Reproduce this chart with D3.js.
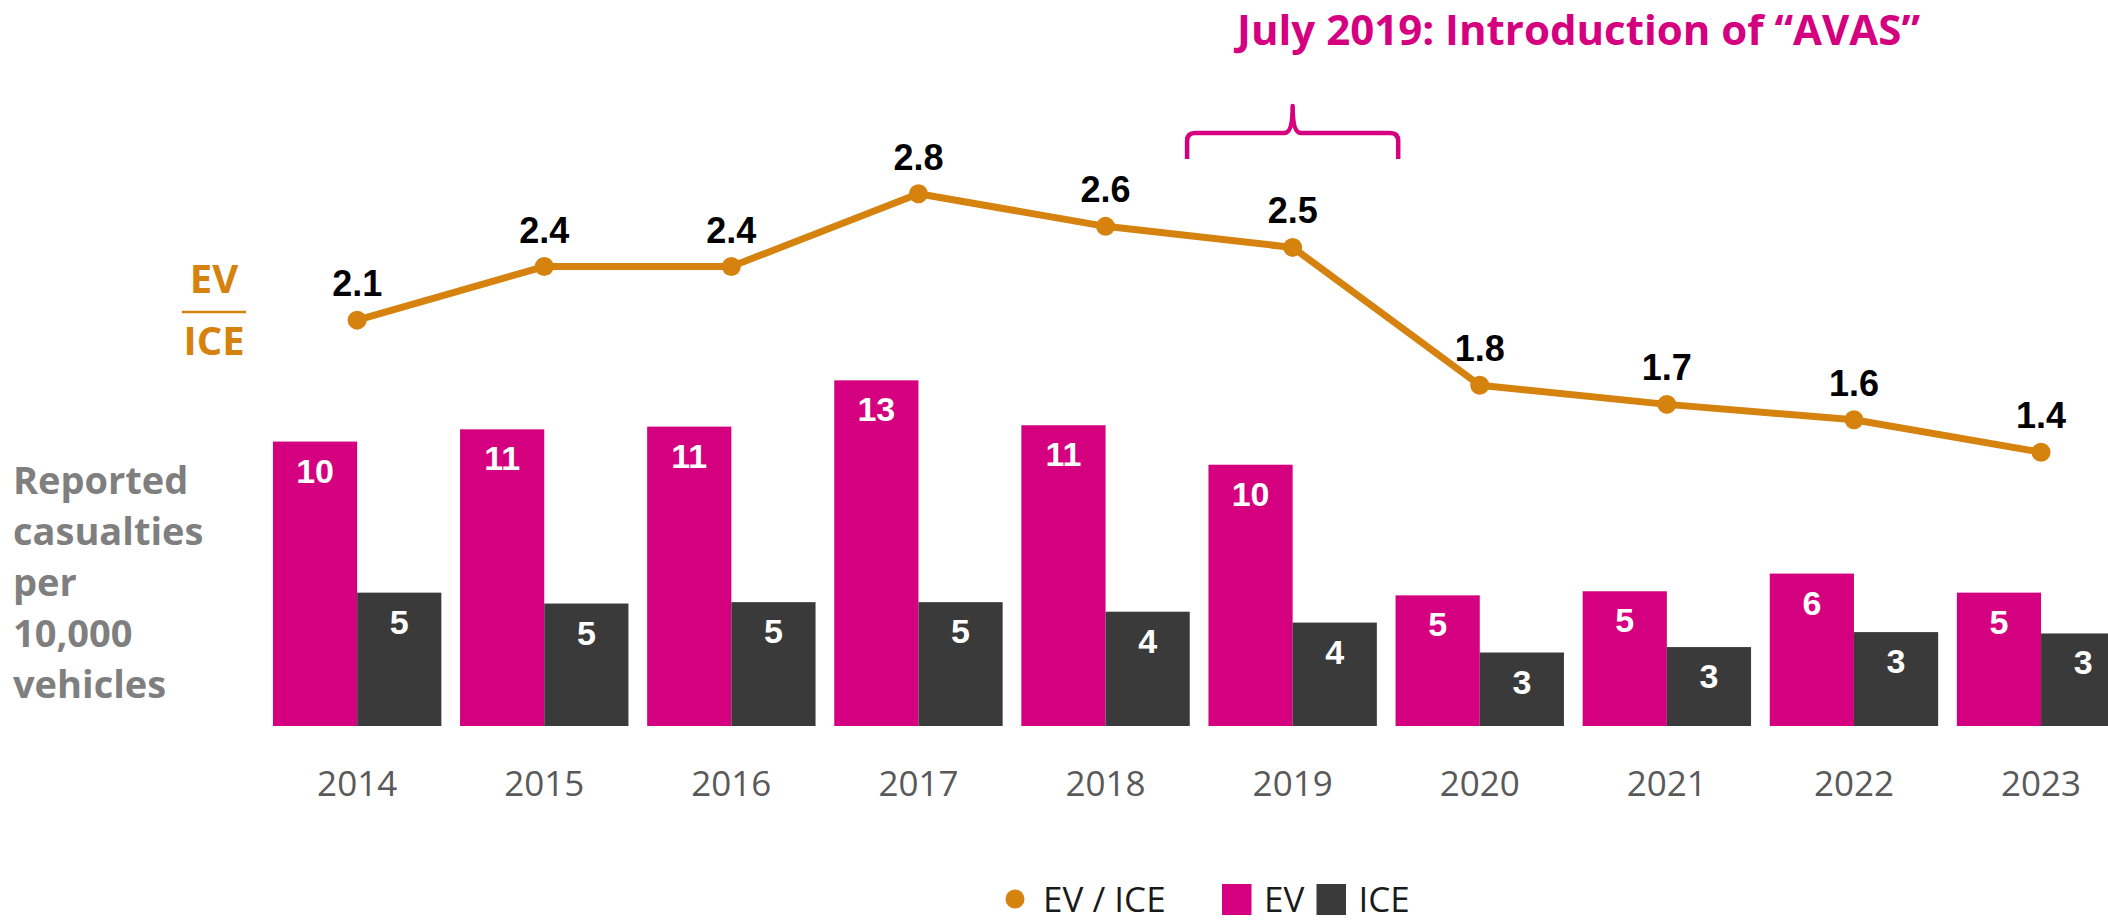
<!DOCTYPE html>
<html>
<head>
<meta charset="utf-8">
<script src="https://cdn.jsdelivr.net/npm/d3@7"></script>
<style>
  html, body { margin: 0; padding: 0; background: #fff; }
  svg { display: block; }
</style>
</head>
<body>
<svg id="chart" width="2108" height="923"></svg>
<script>
// data
const years = ['2014', '2015', '2016', '2017', '2018', '2019', '2020', '2021', '2022', '2023'];
const evRates = [10.45, 10.9, 11.0, 12.7, 11.05, 9.6, 4.8, 4.95, 5.6, 4.9];
const iceRates = [4.9, 4.5, 4.55, 4.55, 4.2, 3.8, 2.7, 2.9, 3.45, 3.4];
const ratios = [2.12, 2.40, 2.40, 2.78, 2.61, 2.50, 1.78, 1.68, 1.60, 1.43];
const seriesNames = ['EV', 'ICE'];
const ratioName = 'EV / ICE';
const yTitleLines = ['Reported', 'casualties', 'per', '10,000', 'vehicles'];
const annotationYear = '2019';
const annotationText = 'July 2019: Introduction of \u201CAVAS\u201D';

const baseline = 726, plotTop = 100;
const MAGENTA = '#d5007f', DARK = '#3a3a3a', ORANGE = '#d5820f';
const SANS = '"Open Sans", "Noto Sans", sans-serif';
const ARIAL = '"Liberation Sans", Arial, sans-serif';

const svg = d3.select('#chart');

const x0 = d3.scaleBand().domain(years).range([263.6, 2134.6]).paddingInner(0.1).paddingOuter(0.05);
const x1 = d3.scaleBand().domain(seriesNames).range([0, x0.bandwidth()]);
const yBars = d3.scaleLinear().domain([0, 23]).range([baseline, plotTop]);
const yRatio = d3.scaleLinear().domain([0, 3.27]).range([baseline, plotTop]);
const colors = d3.scaleOrdinal().domain(seriesNames).range([MAGENTA, DARK]);

const rows = years.map((year, i) => ({
  year,
  ratio: ratios[i],
  values: [{key: 'EV', value: evRates[i]}, {key: 'ICE', value: iceRates[i]}]
}));

const centerX = (year) => x0(year) + x0.bandwidth() / 2;

// bars
const groups = svg.append('g').selectAll('g').data(rows).join('g')
  .attr('transform', d => `translate(${x0(d.year)},0)`);

groups.selectAll('rect').data(d => d.values).join('rect')
  .attr('x', d => x1(d.key))
  .attr('y', d => yBars(d.value))
  .attr('width', x1.bandwidth())
  .attr('height', d => baseline - yBars(d.value))
  .attr('fill', d => colors(d.key));

groups.selectAll('text').data(d => d.values).join('text')
  .attr('x', d => x1(d.key) + x1.bandwidth() / 2)
  .attr('y', d => yBars(d.value) + 41)
  .attr('text-anchor', 'middle')
  .attr('fill', '#fff')
  .style('font', `bold 34px ${ARIAL}`)
  .text(d => Math.round(d.value));

// x axis (labels only)
const xAxis = svg.append('g').attr('transform', `translate(0,${baseline})`)
  .call(d3.axisBottom(x0).tickSize(0).tickPadding(45));
xAxis.select('.domain').remove();
xAxis.selectAll('text')
  .attr('fill', '#595959')
  .style('font', `35px ${SANS}`);

// ratio line
const line = d3.line().x(d => centerX(d.year)).y(d => yRatio(d.ratio));

svg.append('path').datum(rows)
  .attr('d', line)
  .attr('fill', 'none')
  .attr('stroke', ORANGE)
  .attr('stroke-width', 7)
  .attr('stroke-linejoin', 'round');

svg.append('g').selectAll('circle').data(rows).join('circle')
  .attr('cx', d => centerX(d.year))
  .attr('cy', d => yRatio(d.ratio))
  .attr('r', 9.5)
  .attr('fill', ORANGE);

svg.append('g').selectAll('text').data(rows).join('text')
  .attr('x', d => centerX(d.year))
  .attr('y', d => yRatio(d.ratio) - 24)
  .attr('text-anchor', 'middle')
  .attr('fill', '#000')
  .style('font', `bold 36px ${ARIAL}`)
  .text(d => d3.format('.1f')(d.ratio));

// EV / ICE label on the left
const ratioLabel = svg.append('g').attr('fill', ORANGE).style('font', `bold 40px ${SANS}`);
ratioLabel.append('text').attr('x', 214).attr('y', 293).attr('text-anchor', 'middle').text(seriesNames[0]);
ratioLabel.append('line').attr('x1', 182).attr('x2', 246).attr('y1', 312).attr('y2', 312)
  .attr('stroke', ORANGE).attr('stroke-width', 2.5);
ratioLabel.append('text').attr('x', 214).attr('y', 355).attr('text-anchor', 'middle').text(seriesNames[1]);

// y title
svg.append('text')
  .attr('fill', '#7f7f7f')
  .style('font', `bold 38px ${SANS}`)
  .selectAll('tspan').data(yTitleLines).join('tspan')
  .attr('x', 13)
  .attr('y', (d, i) => 494 + i * 51)
  .text(d => d);

// annotation bracket over 2019
const bx = centerX(annotationYear);
const half = x0.step() / 2 + 12;
const r = 8;
const bracket = d3.path();
bracket.moveTo(bx - half, 159);
bracket.lineTo(bx - half, 133 + r);
bracket.quadraticCurveTo(bx - half, 133, bx - half + r, 133);
bracket.lineTo(bx - r, 133);
bracket.quadraticCurveTo(bx, 133, bx, 106);
bracket.quadraticCurveTo(bx, 133, bx + r, 133);
bracket.lineTo(bx + half - r, 133);
bracket.quadraticCurveTo(bx + half, 133, bx + half, 133 + r);
bracket.lineTo(bx + half, 159);

svg.append('path')
  .attr('d', bracket.toString())
  .attr('fill', 'none')
  .attr('stroke', MAGENTA)
  .attr('stroke-width', 4.5)
  .attr('stroke-linejoin', 'round');

svg.append('text')
  .attr('x', 1237)
  .attr('y', 45)
  .attr('fill', MAGENTA)
  .style('font', `bold 42px ${SANS}`)
  .text(annotationText);

// legend
const legendY = 912;
const legend = svg.append('g').style('font', `35px ${SANS}`).attr('fill', '#1a1a1a');
legend.append('circle').attr('cx', 1015).attr('cy', legendY - 13).attr('r', 9.5).attr('fill', ORANGE);
legend.append('text').attr('x', 1043).attr('y', legendY).text(ratioName);

const legendItems = legend.selectAll('g.item').data(seriesNames).join('g')
  .attr('class', 'item')
  .attr('transform', (d, i) => `translate(${1222 + i * 94.5},0)`);
legendItems.append('rect').attr('x', 0).attr('y', legendY - 28).attr('width', 29.5).attr('height', 31)
  .attr('fill', d => colors(d));
legendItems.append('text').attr('x', 42).attr('y', legendY).text(d => d);
</script>
</body>
</html>
